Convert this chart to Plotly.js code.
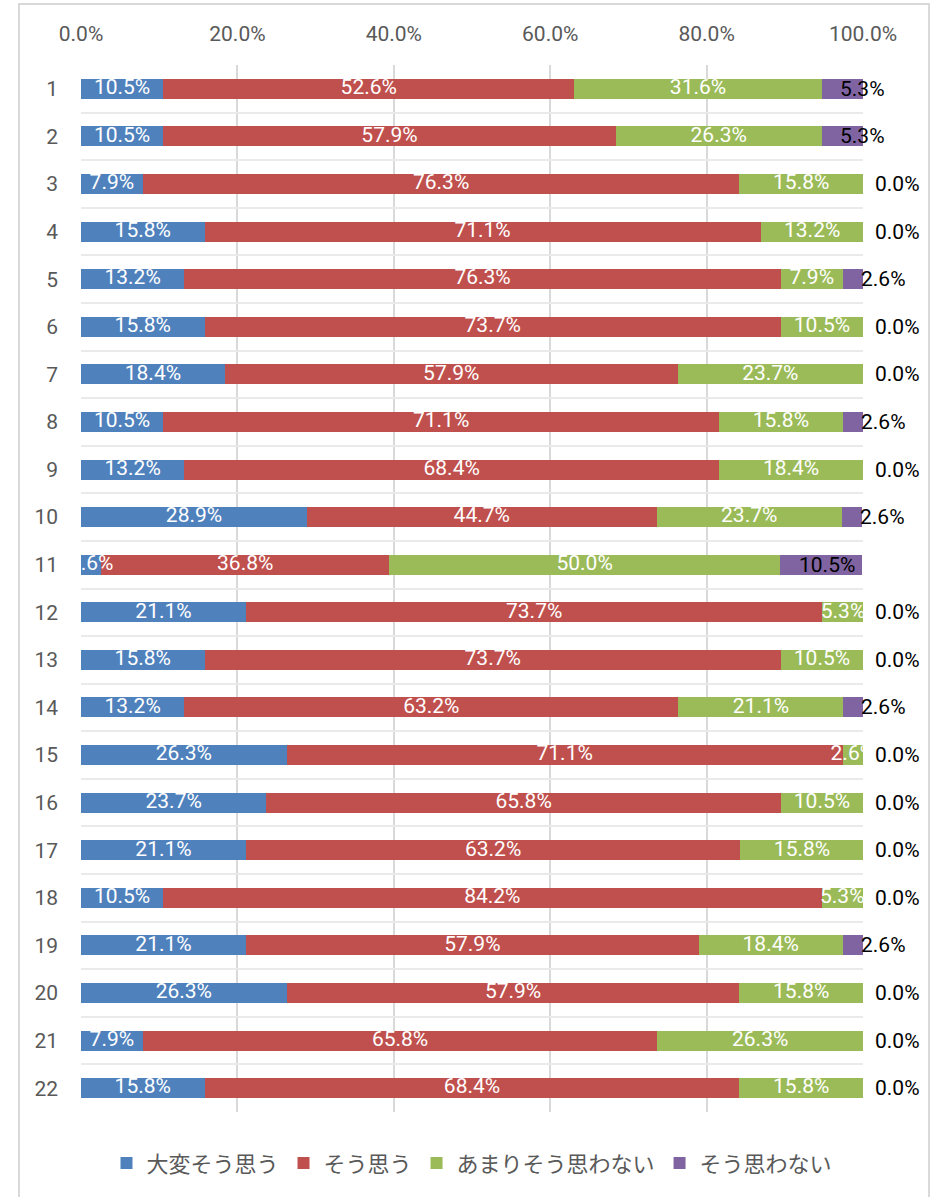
<!DOCTYPE html>
<html>
<head>
<meta charset="utf-8">
<script src="https://cdn.plot.ly/plotly-3.0.1.min.js"></script>
<style>
html,body{margin:0;padding:0;background:#fff;}
#chart{width:936px;height:1197px;}
#frame{position:absolute;left:18px;top:3px;width:908px;height:1210px;border:2px solid #D9D9D9;pointer-events:none;}
</style>
</head>
<body>
<div id="chart"></div>
<div id="frame"></div>
<script>
const categories = ['1','2','3','4','5','6','7','8','9','10','11','12','13','14','15','16','17','18','19','20','21','22'];
const seriesNames = ['大変そう思う','そう思う','あまりそう思わない','そう思わない'];
const verymuch = [10.5,10.5,7.9,15.8,13.2,15.8,18.4,10.5,13.2,28.9,2.6,21.1,15.8,13.2,26.3,23.7,21.1,10.5,21.1,26.3,7.9,15.8];
const agree    = [52.6,57.9,76.3,71.1,76.3,73.7,57.9,71.1,68.4,44.7,36.8,73.7,73.7,63.2,71.1,65.8,63.2,84.2,57.9,57.9,65.8,68.4];
const notmuch  = [31.6,26.3,15.8,13.2,7.9,10.5,23.7,15.8,18.4,23.7,50.0,5.3,10.5,21.1,2.6,10.5,15.8,5.3,18.4,15.8,26.3,15.8];
const disagree = [5.3,5.3,0.0,0.0,2.6,0.0,0.0,2.6,0.0,2.6,10.5,0.0,0.0,2.6,0.0,0.0,0.0,0.0,2.6,0.0,0.0,0.0];
const xTicks = [0,20,40,60,80,100];
const xTickText = ['0.0%','20.0%','40.0%','60.0%','80.0%','100.0%'];
const colors = ['#4F81BD','#C0504D','#9BBB59','#8064A2'];

const allSeries = [verymuch, agree, notmuch, disagree];

// cumulative bases of the stack
const bases = allSeries.map((vals, i) => categories.map((c, k) => {
  let s = 0; for (let j = 0; j < i; j++) s += allSeries[j][k]; return s;
}));

const barTraces = allSeries.map((vals, i) => ({
  type:'bar', orientation:'h',
  name: seriesNames[i],
  y: categories, x: vals,
  marker:{color: colors[i], line:{width:0}},
  textposition:'none',
  hoverinfo:'skip'
}));

// white value labels of the first three series, drawn above all bars
const labelTraces = allSeries.slice(0, 3).map((vals, i) => ({
  type:'scatter', mode:'text', showlegend:false, cliponaxis:true,
  y: categories,
  x: vals.map((v, k) => bases[i][k] + v / 2),
  text: vals.map(v => v.toFixed(1) + '%'),
  textposition:'middle center',
  textfont:{family:'Roboto, sans-serif', size:21, color:'#FFFFFF'},
  hoverinfo:'skip'
}));

// labels for the last series, placed from the data values
const annotations = categories.map((c, k) => {
  const v = disagree[k];
  const start = bases[3][k];
  const end = start + v;
  const base = {y:k, xref:'x', yref:'y', yanchor:'middle', showarrow:false,
    text: v.toFixed(1) + '%', font:{family:'Roboto, sans-serif', size:21, color:'#000000'}};
  if (v >= 8) return Object.assign(base, {x:Math.min(end,100), xanchor:'right', xshift:-5});
  if (v > 0)  return Object.assign(base, {x:start, xanchor:'left', xshift:16});
  return Object.assign(base, {x:Math.min(end,100), xanchor:'left', xshift:10});
});

const layout = {
  width:936, height:1197,
  margin:{l:81, r:73, t:65, b:85, autoexpand:false},
  paper_bgcolor:'#FFFFFF', plot_bgcolor:'#FFFFFF',
  barmode:'stack', bargap:0.58,
  showlegend:true,
  legend:{orientation:'h', x:0.5, xanchor:'center', y:-0.049, yanchor:'middle',
    font:{family:'"Noto Sans CJK JP", sans-serif', size:22, color:'#595959'},
    traceorder:'normal'},
  xaxis:{side:'top', range:[0,100], tickvals:xTicks, ticktext:xTickText,
    showgrid:true, gridcolor:'#D9D9D9', gridwidth:2, zeroline:false, showline:false, ticks:'',
    ticklabelstandoff:19,
    tickfont:{family:'Roboto, sans-serif', size:21, color:'#595959'}, fixedrange:true},
  yaxis:{type:'category', autorange:false, range:[categories.length - 0.5, -0.5], tickson:'boundaries',
    showgrid:true, gridcolor:'#EAEAEA', gridwidth:2, zeroline:false, showline:false, ticks:'',
    ticklabelstandoff:22,
    tickfont:{family:'Roboto, sans-serif', size:21, color:'#595959'}, fixedrange:true},
  annotations: annotations,
  font:{family:'Roboto, sans-serif'}
};

Plotly.newPlot('chart', barTraces.concat(labelTraces), layout, {staticPlot:true, displayModeBar:false});
</script>
</body>
</html>
